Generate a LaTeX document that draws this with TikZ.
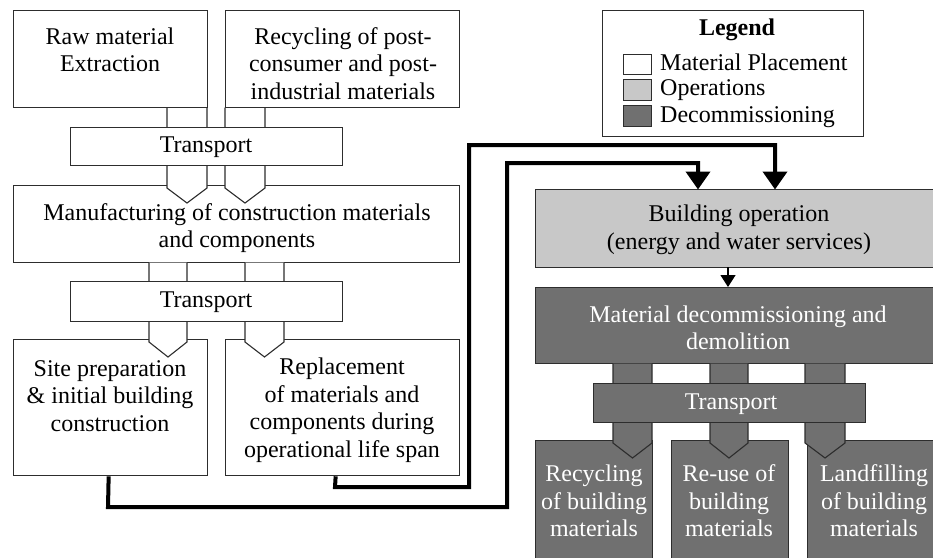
\documentclass[tikz,border=0pt]{standalone}
\usepackage{fontspec}
\setmainfont{LiberationSerif}[Extension=.ttf, UprightFont=*-Regular, BoldFont=*-Bold, ItalicFont=*-Italic, BoldItalicFont=*-BoldItalic]
\usetikzlibrary{arrows.meta}
\definecolor{opgray}{RGB}{200,200,200}
\definecolor{decgray}{RGB}{112,112,112}
\definecolor{edge}{RGB}{45,45,45}
\newcommand\mychev[6]{%
  \path[fill=#5] (#1,#3) -- (#1,#4+3) -- ({(#1+#2)/2},#4+18) -- (#2,#4+3) -- (#2,#3) -- cycle;
  \draw[draw=#6, line width=1.1pt, line join=miter] (#1,#3) -- (#1,#4+3) -- ({(#1+#2)/2},#4+18) -- (#2,#4+3) -- (#2,#3);}
\begin{document}
\begin{tikzpicture}[x=1pt,y=-1pt,
  box/.style={draw=edge, line width=1.3pt, rectangle, inner sep=0pt, anchor=north west},
  wbox/.style={box, fill=white},
  obox/.style={box, fill=opgray},
  dbox/.style={box, fill=decgray},
  txt/.style={align=center, inner sep=0pt, font=\fontsize{24}{27.5}\selectfont},
  wtxt/.style={txt, text=white},
  conn/.style={line width=4pt, line join=miter, -{Triangle[width=24pt,length=18pt]}}]
\useasboundingbox (0,0) rectangle (933,557);
\clip (0,0) rectangle (933,557);
\fill[white] (0,0) rectangle (933,557);

% ---- left part: material placement ----
\node[wbox, minimum width=446pt, minimum height=77pt] (man) at (13,185) {};
\node[wbox, minimum width=194pt, minimum height=136pt] (site) at (13,339) {};
\node[wbox, minimum width=234pt, minimum height=136pt] (repl) at (225,339) {};

\mychev{167}{207}{107.7}{185}{white}{edge}
\mychev{225}{265}{107.7}{185}{white}{edge}
\mychev{149}{187}{262.7}{339}{white}{edge}
\mychev{245}{284}{262.7}{339}{white}{edge}

\node[wbox, minimum width=194pt, minimum height=97pt] (raw) at (13,10) {};
\node[wbox, minimum width=234pt, minimum height=97pt] (rec) at (225,10) {};
\node[wbox, minimum width=272pt, minimum height=38pt] (tr1) at (70,127) {};
\node[wbox, minimum width=272pt, minimum height=40pt] (tr2) at (70,281) {};

\node[txt] (rawt) at (110,50) {Raw material\\Extraction};
\node[txt] (rect) at (343,63.5) {Recycling of post-\\consumer and post-\\industrial materials};
\node[txt] (tr1t) at (206,147) {Transport};
\node[txt] (mant) at (237,228) {Manufacturing of construction materials\\and components};
\node[txt] (tr2t) at (206,302) {Transport};
\node[txt] (sitet) at (110,396) {Site preparation\\\& initial building\\construction};
\node[txt] (replt) at (342,410) {Replacement\\of materials and\\components during\\operational life span};

% ---- legend ----
\node[wbox, minimum width=261pt, minimum height=126pt] (leg) at (602,10) {};
\node[txt, font=\fontsize{24}{27.5}\selectfont\bfseries] (legt) at (737,30) {Legend};
\node[wbox, minimum width=28pt, minimum height=20pt] (sw1) at (623,54) {};
\node[obox, minimum width=28pt, minimum height=21pt] (sw2) at (623,79) {};
\node[dbox, minimum width=28pt, minimum height=21pt] (sw3) at (623,105) {};
\node[txt, anchor=west] (l1) at (660,62) {Material Placement};
\node[txt, anchor=west] (l2) at (660,90) {Operations};
\node[txt, anchor=west] (l3) at (660,117) {Decommissioning};

% ---- right part ----
\node[obox, minimum width=410pt, minimum height=78pt] (bop) at (535,189) {};
\node[dbox, minimum width=410pt, minimum height=76pt] (dec) at (535,287) {};
\node[dbox, minimum width=117pt, minimum height=130pt] (rb1) at (535,440) {};
\node[dbox, minimum width=117pt, minimum height=130pt] (rb2) at (671,440) {};
\node[dbox, minimum width=134pt, minimum height=130pt] (rb3) at (807,440) {};

\mychev{613}{652}{363.7}{440}{decgray}{edge}
\mychev{710}{748}{363.7}{440}{decgray}{edge}
\mychev{805}{845}{363.7}{440}{decgray}{edge}

\node[dbox, minimum width=272pt, minimum height=39pt] (tr3) at (593,383) {};

\node[txt] (bopt) at (739,230) {Building operation\\(energy and water services)};
\node[wtxt] (dect) at (738,328) {Material decommissioning and\\demolition};
\node[wtxt] (tr3t) at (731,404) {Transport};
\node[wtxt] (rb1t) at (594,501) {Recycling\\of building\\materials};
\node[wtxt] (rb2t) at (729,501) {Re-use of\\building\\materials};
\node[wtxt] (rb3t) at (874,501) {Landfilling\\of building\\materials};

% ---- connectors ----
\coordinate (c1) at (108,507);
\coordinate (c2) at (507,507);
\coordinate (c3) at (507,163);
\coordinate (c4) at (698,163);
\coordinate (t1) at (698,189.5);
\draw[conn] ([xshift=-2pt]site.south) -- (c1) -- (c2) -- (c3) -- (c4) -- (t1);
\coordinate (d1) at (335,487);
\coordinate (d2) at (469,487);
\coordinate (d3) at (469,145);
\coordinate (d4) at (775,145);
\coordinate (t2) at (775,189.5);
\draw[conn] ([xshift=-7pt]repl.south) -- (d1) -- (d2) -- (d3) -- (d4) -- (t2);
\coordinate (s1) at (728,267);
\coordinate (s2) at (728,287);
\draw[line width=1.3pt, -{Triangle[width=15pt,length=12pt]}] (s1) -- (s2);
\end{tikzpicture}
\end{document}
